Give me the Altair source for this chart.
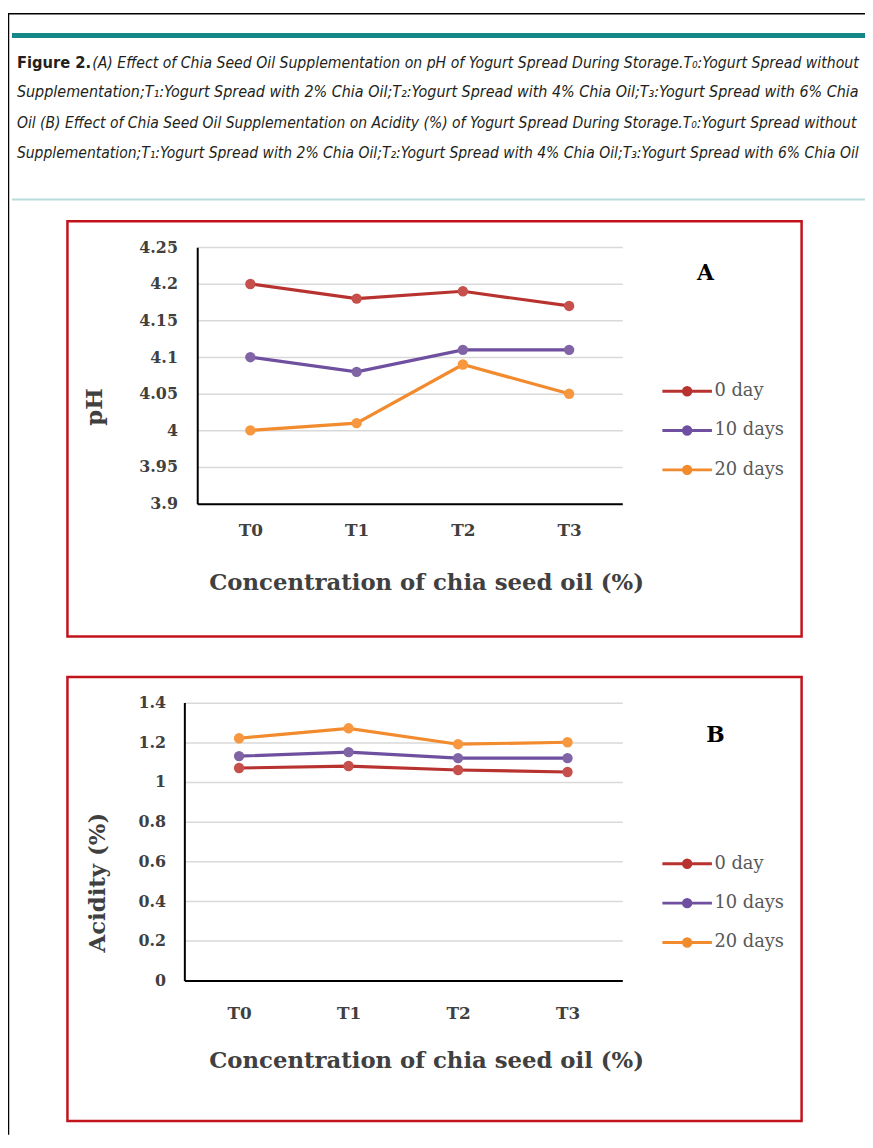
import altair as alt
import pandas as pd

# ---------------- data ----------------
categories = ["T0", "T1", "T2", "T3"]
series = ["0 day", "10 days", "20 days"]

ph_0day = [4.20, 4.18, 4.19, 4.17]
ph_10days = [4.10, 4.08, 4.11, 4.11]
ph_20days = [4.00, 4.01, 4.09, 4.05]

acid_0day = [1.07, 1.08, 1.06, 1.05]
acid_10days = [1.13, 1.15, 1.12, 1.12]
acid_20days = [1.22, 1.27, 1.19, 1.20]

ph_ticks = [3.9, 3.95, 4, 4.05, 4.1, 4.15, 4.2, 4.25]
acid_ticks = [0, 0.2, 0.4, 0.6, 0.8, 1, 1.2, 1.4]

line_colors = ["#b83330", "#6f4f9f", "#f28a2e"]
marker_colors = ["#c5504c", "#8064a5", "#f7973f"]

caption_bold = "Figure 2."
caption_lines = [
    "(A) Effect of Chia Seed Oil Supplementation on pH of Yogurt Spread During Storage.T\u2080:Yogurt Spread without",
    "Supplementation;T\u2081:Yogurt Spread with 2% Chia Oil;T\u2082:Yogurt Spread with 4% Chia Oil;T\u2083:Yogurt Spread with 6% Chia",
    "Oil (B) Effect of Chia Seed Oil Supplementation on Acidity (%) of Yogurt Spread During Storage.T\u2080:Yogurt Spread without",
    "Supplementation;T\u2081:Yogurt Spread with 2% Chia Oil;T\u2082:Yogurt Spread with 4% Chia Oil;T\u2083:Yogurt Spread with 6% Chia Oil",
]
x_title = "Concentration of chia seed oil (%)"


def long_table(values_by_series):
    rows = []
    for s, vals in zip(series, values_by_series):
        for c, v in zip(categories, vals):
            rows.append({"treatment": c, "storage": s, "value": v})
    return pd.DataFrame(rows)


df_ph = long_table([ph_0day, ph_10days, ph_20days])
df_acid = long_table([acid_0day, acid_10days, acid_20days])

SERIF = "DejaVu Serif"
CAPTION_FONT = "Liberation Sans Narrow, DejaVu Sans Condensed, Open Sans, sans-serif"
AX_GREY = "#404040"

W, H = 865, 1132
one = pd.DataFrame({"k": [0]})

# legend symbol: a line with a filled dot (two concentric stroked circles)
SYM = ("M-1,0L1,0"
       "M0.15,0A0.15,0.15,0,1,1,-0.15,0A0.15,0.15,0,1,1,0.15,0"
       "M0.06,0A0.06,0.06,0,1,1,-0.06,0A0.06,0.06,0,1,1,0.06,0")


def panel(df, ticks, y_range, x_range, y_off, x_off, y_title, y_title_x, y_title_y,
          x_title_y, x_label_pad, y_label_pad, legend_x, legend_y):
    x = alt.X(
        "treatment:N",
        sort=categories,
        scale=alt.Scale(type="point", domain=categories, range=x_range, padding=0.5),
        axis=alt.Axis(
            orient="bottom", offset=x_off, title=x_title, labelAngle=0,
            ticks=False, grid=False, domainColor="#000000", domainWidth=2,
            labelFont=SERIF, labelFontSize=17, labelFontWeight="bold",
            labelColor=AX_GREY, labelPadding=x_label_pad,
            titleFont=SERIF, titleFontSize=23, titleFontWeight="bold",
            titleColor=AX_GREY, titleX=422, titleY=x_title_y,
            titleAlign="center", titleBaseline="middle",
        ),
    )
    y = alt.Y(
        "value:Q",
        scale=alt.Scale(domain=[ticks[0], ticks[-1]], range=y_range, zero=False, nice=False),
        axis=alt.Axis(
            orient="left", offset=y_off, values=ticks, format="~g",
            ticks=False, grid=True, gridColor="#d9d9d9", gridWidth=1.5,
            domainColor="#000000", domainWidth=2,
            labelFont=SERIF, labelFontSize=16, labelFontWeight="bold",
            labelColor=AX_GREY, labelPadding=y_label_pad,
            title=y_title, titleFont=SERIF, titleFontSize=23, titleFontWeight="bold",
            titleColor=AX_GREY, titleX=y_title_x, titleY=y_title_y, titleAngle=270,
            titleAlign="center", titleBaseline="middle",
        ),
    )
    color = alt.Color(
        "storage:N",
        sort=series,
        scale=alt.Scale(domain=series, range=line_colors),
        legend=alt.Legend(
            orient="none", legendX=legend_x, legendY=legend_y, title=None,
            symbolType=SYM, symbolSize=2500, symbolStrokeWidth=3,
            labelFont=SERIF, labelFontSize=18, labelColor="#595959",
            labelOffset=1, rowPadding=2.7, padding=0,
        ),
    )
    lines = alt.Chart(df).mark_line(strokeWidth=3.2).encode(x=x, y=y, color=color)
    pts = alt.Chart(df).mark_point(filled=True, size=110, opacity=1).encode(
        x=x, y=y,
        fill=alt.Fill("storage:N", sort=series,
                      scale=alt.Scale(domain=series, range=marker_colors), legend=None),
    )
    return alt.layer(lines, pts)


panel_a = panel(
    df_ph, ph_ticks, y_range=[495, 236.3], x_range=[191, 620],
    y_off=-191, x_off=-(H - 495), y_title="pH", y_title_x=-104, y_title_y=397,
    x_title_y=80, x_label_pad=19, y_label_pad=20, legend_x=659, legend_y=355,
)
panel_b = panel(
    df_acid, acid_ticks, y_range=[976.3, 695.7], x_range=[178, 620],
    y_off=-178, x_off=-(H - 976.3), y_title="Acidity (%)", y_title_x=-88, y_title_y=877,
    x_title_y=81, x_label_pad=25, y_label_pad=19, legend_x=659, legend_y=832,
)

# ---------------- decorations ----------------
def rule(x, x2, y, y2, color, width):
    return alt.Chart(one).mark_rule(color=color, strokeWidth=width).encode(
        x=alt.value(x), x2=alt.value(x2), y=alt.value(y), y2=alt.value(y2))


def box(x, x2, y, y2):
    return alt.Chart(one).mark_rect(fill="transparent", stroke="#c2121b", strokeWidth=2.5).encode(
        x=alt.value(x), x2=alt.value(x2), y=alt.value(y), y2=alt.value(y2))


def text(t, x, y, size, font, weight="normal", style="normal", color="#231f20", align="left"):
    return alt.Chart(one).mark_text(
        text=t, font=font, fontSize=size, fontWeight=weight, fontStyle=style,
        color=color, align=align, baseline="middle",
    ).encode(x=alt.value(x), y=alt.value(y))


decor = [
    rule(0.5, 0.5, 0, H, "#000000", 1.5),
    rule(0, W, 0.5, 0.5, "#000000", 1.5),
    rule(4, W, 22.5, 22.5, "#148888", 5),
    rule(4, W, 188, 188, "#b9dcdc", 2),
    box(60, 801, 210, 629),
    box(60, 801, 670, 1118),
    text(caption_bold, 9, 50, 16.5, CAPTION_FONT, weight="bold"),
    text(caption_lines[0], 85, 50, 15.8, CAPTION_FONT, style="italic"),
    text(caption_lines[1], 9, 80, 16.1, CAPTION_FONT, style="italic"),
    text(caption_lines[2], 9, 111, 15.65, CAPTION_FONT, style="italic"),
    text(caption_lines[3], 9, 141.5, 15.65, CAPTION_FONT, style="italic"),
    text("A", 704, 262, 22, SERIF, weight="bold", color="#000000", align="center"),
    text("B", 714, 729, 22, SERIF, weight="bold", color="#000000", align="center"),
]

chart = (
    alt.layer(*decor, panel_a, panel_b)
    .resolve_scale(x="independent", y="independent", color="independent", fill="independent")
    .properties(width=W, height=H, padding=0, autosize="none", background="white")
    .configure_view(stroke=None)
)

chart.save("out.html", embed_options={"renderer": "svg", "actions": False})
